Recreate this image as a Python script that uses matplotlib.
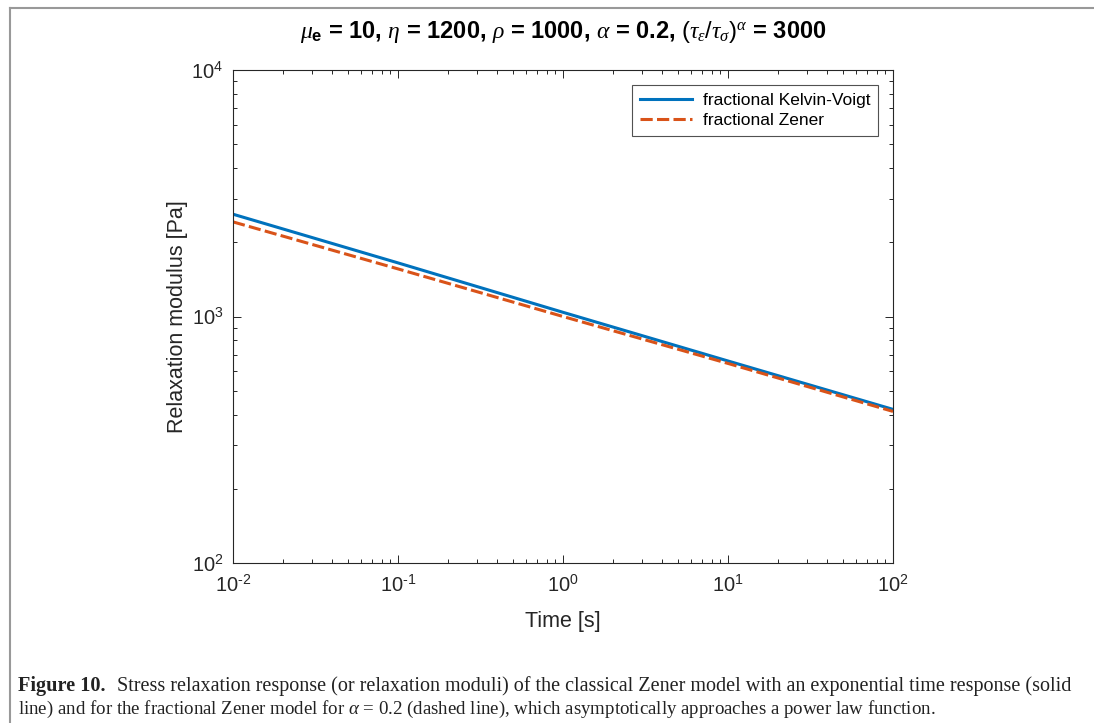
import matplotlib
matplotlib.use("Agg")
import matplotlib.pyplot as plt
from matplotlib.ticker import LogLocator, FuncFormatter, NullFormatter
from matplotlib.lines import Line2D
import numpy as np

# values (straight lines on log-log axes)
time_s = [0.01, 0.1, 1, 10, 100]
kelvin_voigt = [2600, 1650, 1040, 660, 420]
zener = [2420, 1560, 1000, 645, 412]

title_txt = (r"$\mu_{\mathbf{e}}$ = 10, $\eta$ = 1200, $\rho$ = 1000, "
             r"$\alpha$ = 0.2, $(\tau_{\epsilon}/\tau_{\sigma})^{\alpha}$ = 3000")
caption_bold = "Figure 10."
caption_1 = ("Stress relaxation response (or relaxation moduli) of the classical Zener "
             "model with an exponential time response (solid")
caption_2 = ("line) and for the fractional Zener model for $\\alpha$ = 0.2 (dashed line), "
             "which asymptotically approaches a power law function.")

plt.rcParams["font.family"] = ["Liberation Sans", "DejaVu Sans"]
plt.rcParams["mathtext.fontset"] = "custom"
plt.rcParams["mathtext.rm"] = "Liberation Sans"
plt.rcParams["mathtext.it"] = "Liberation Serif:italic"
plt.rcParams["mathtext.bf"] = "Liberation Sans:bold"
plt.rcParams["axes.unicode_minus"] = False

blue = "#0072BD"
orange = "#D95319"
axcol = "#262626"


def pow10(v, pos):
    e = int(round(np.log10(v)))
    s = str(e).replace("-", "\u2010")
    return "10$^{\\mathdefault{" + s + "}}$"


fig = plt.figure(figsize=(10.94, 7.23), dpi=100)
ax = fig.add_axes([233 / 1094, 1 - 563 / 723, 660 / 1094, 493 / 723])

ax.plot(time_s, kelvin_voigt, color=blue, lw=2.2, label="fractional Kelvin-Voigt")
ax.plot(time_s, zener, color=orange, lw=2.2, dashes=(4, 1.4), label="fractional Zener")

ax.set_xscale("log")
ax.set_yscale("log")
ax.set_xlim(1e-2, 1e2)
ax.set_ylim(1e2, 1e4)

ax.xaxis.set_major_locator(LogLocator(base=10, numticks=10))
ax.yaxis.set_major_locator(LogLocator(base=10, numticks=10))
ax.xaxis.set_major_formatter(FuncFormatter(pow10))
ax.yaxis.set_major_formatter(FuncFormatter(pow10))
ax.xaxis.set_minor_locator(LogLocator(base=10, subs=np.arange(2, 10), numticks=20))
ax.yaxis.set_minor_locator(LogLocator(base=10, subs=np.arange(2, 10), numticks=20))
ax.xaxis.set_minor_formatter(NullFormatter())
ax.yaxis.set_minor_formatter(NullFormatter())

ax.tick_params(which="both", direction="in", top=True, right=True, colors=axcol,
               labelcolor=axcol, width=0.7)
ax.tick_params(which="major", length=6, labelsize=14.5)
ax.tick_params(axis="x", which="major", pad=8)
ax.tick_params(axis="y", which="major", pad=7)
ax.tick_params(which="minor", length=3)
for s in ax.spines.values():
    s.set_color(axcol)
    s.set_linewidth(0.8)

ax.set_xlabel("Time [s]", fontsize=15.5, color=axcol, labelpad=11)
ax.set_ylabel("Relaxation modulus [Pa]", fontsize=15.5, color=axcol, labelpad=2)
ax.set_title(title_txt, fontsize=17, fontweight="bold", color="black", pad=23)

leg = ax.legend(loc="upper right", fontsize=12.5, frameon=True, fancybox=False,
                borderpad=0.45, handlelength=3.0, handletextpad=0.6, labelspacing=0.3,
                borderaxespad=0, bbox_to_anchor=(0.977, 0.970))
leg.get_frame().set_edgecolor(axcol)
leg.get_frame().set_linewidth(0.8)

# page frame
fig.add_artist(Line2D([10 / 1094, 1.0], [1 - 8 / 723, 1 - 8 / 723], color="#999999", lw=1.5))
fig.add_artist(Line2D([10 / 1094, 10 / 1094], [1 - 8 / 723, 0.0], color="#999999", lw=1.5))

# caption
serif = ["Liberation Serif", "DejaVu Serif"]
fig.text(18 / 1094, 1 - 686 / 723, caption_bold, fontweight="bold", va="center",
         fontsize=14.6, family=serif, color="#222222")
fig.text(117 / 1094, 1 - 686 / 723, caption_1, va="center",
         fontsize=14.5, family=serif, color="#222222")
fig.text(18 / 1094, 1 - 709 / 723, caption_2, va="center",
         fontsize=13.6, family=serif, color="#222222")

fig.savefig("out.png", dpi=100)
